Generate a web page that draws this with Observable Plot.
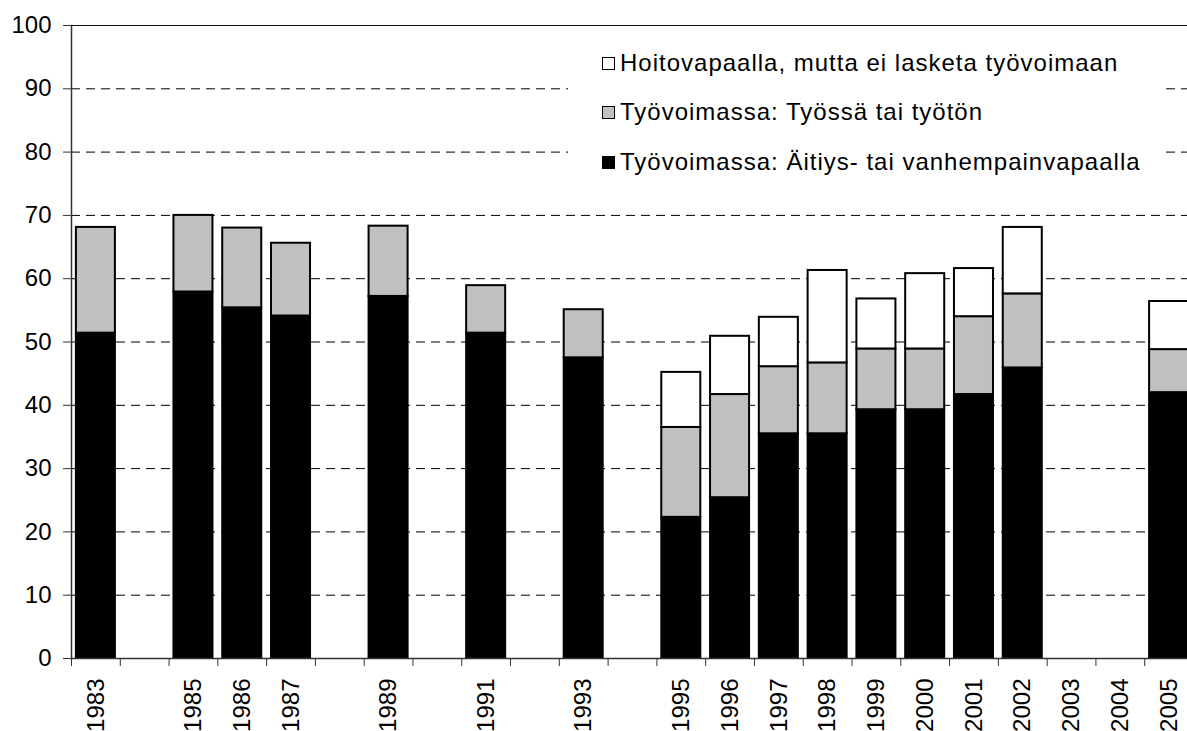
<!DOCTYPE html>
<html><head><meta charset="utf-8">
<script src="https://cdn.jsdelivr.net/npm/d3@7"></script>
<script src="https://cdn.jsdelivr.net/npm/@observablehq/plot@0.6"></script>
<style>
body{margin:0;background:#fff;}
#wrap{position:relative;width:1187px;height:731px;overflow:hidden;font-family:"Liberation Sans",Arial,sans-serif;}
#legend{position:absolute;left:568px;top:38px;width:594px;height:152px;background:#fff;}
.row{position:absolute;left:34px;display:flex;align-items:center;height:30px;font-size:24px;letter-spacing:1px;color:#000;white-space:nowrap;}
.sw{width:11px;height:11px;border:1.5px solid #000;margin-right:5px;flex:none;}
</style></head>
<body><div id="wrap"></div>
<script>
const years = ["1983","1984","1985","1986","1987","1988","1989","1990","1991","1992","1993","1994","1995","1996","1997","1998","1999","2000","2001","2002","2003","2004","2005"];
const labeledYears = ["1983","1985","1986","1987","1989","1991","1993","1995","1996","1997","1998","1999","2000","2001","2002","2003","2004","2005"];
const seriesNames = ["Työvoimassa: Äitiys- tai vanhempainvapaalla","Työvoimassa: Työssä tai työtön","Hoitovapaalla, mutta ei lasketa työvoimaan"];
const seriesColors = ["#000000","#c0c0c0","#ffffff"];
const parentalLeave = [51.4,null,57.9,55.4,54.1,null,57.2,null,51.4,null,47.5,null,22.3,25.4,35.5,35.5,39.3,39.3,41.7,45.9,null,null,42.0];
const workingOrUnemployed = [16.7,null,12.1,12.6,11.5,null,11.1,null,7.5,null,7.6,null,14.2,16.3,10.6,11.2,9.6,9.6,12.3,11.7,null,null,6.8];
const careLeave = [null,null,null,null,null,null,null,null,null,null,null,null,8.7,9.2,7.8,14.6,7.9,11.9,7.6,10.5,null,null,7.6];
const yTicks = [0,10,20,30,40,50,60,70,80,90,100];
const gridValues = [10,20,30,40,50,60,70,80,90];

const seriesValues = [parentalLeave, workingOrUnemployed, careLeave];
const rows = [];
seriesValues.forEach((vals, si) => {
  vals.forEach((v, i) => { if (v != null && v > 0) rows.push({year: years[i], series: seriesNames[si], value: v}); });
});

const x0 = 71, x1 = 1193;
const step = (x1 - x0) / years.length;

const plot = Plot.plot({
  width: 1187, height: 731,
  marginLeft: 71, marginRight: 0, marginTop: 25, marginBottom: 73,
  style: {fontFamily: "Liberation Sans, Arial, sans-serif", fontSize: "24px", color: "#000", background: "#fff"},
  x: {type: "band", domain: years, range: [x0, x1], paddingInner: 0.2, paddingOuter: 0.1, round: false, axis: null},
  y: {domain: [0, 100], axis: null},
  color: {domain: seriesNames, range: seriesColors},
  marks: [
    Plot.ruleY(gridValues, {stroke: "#000", strokeDasharray: "9,6"}),
    Plot.frame({anchor: "top", stroke: "#111"}),
    Plot.barY(rows, {x: "year", y: "value", fill: "series", stroke: "#000", strokeWidth: 2}),
    Plot.frame({anchor: "left", stroke: "#333", strokeWidth: 1.5}),
    Plot.frame({anchor: "bottom", stroke: "#333", strokeWidth: 1.5}),
    Plot.axisY({ticks: yTicks, tickSize: 8, tickPadding: 12, tickFormat: d => String(d), label: null, stroke: "#333"}),
    Plot.axisX({ticks: years, tickSize: 8, tickFormat: () => "", dx: -step / 2, label: null, stroke: "#333"}),
    Plot.axisX({ticks: labeledYears, tickSize: 0, tickRotate: -90, tickPadding: 20, label: null})
  ]
});
const wrap = document.getElementById("wrap");
wrap.appendChild(plot);

const legend = document.createElement("div");
legend.id = "legend";
const legendOrder = [2, 1, 0];
const rowTops = [10, 59, 109];
legendOrder.forEach((si, k) => {
  const r = document.createElement("div");
  r.className = "row";
  r.style.top = rowTops[k] + "px";
  const sw = document.createElement("div");
  sw.className = "sw";
  sw.style.background = seriesColors[si];
  const t = document.createElement("span");
  t.textContent = seriesNames[si];
  r.appendChild(sw); r.appendChild(t);
  legend.appendChild(r);
});
wrap.appendChild(legend);
</script></body></html>
